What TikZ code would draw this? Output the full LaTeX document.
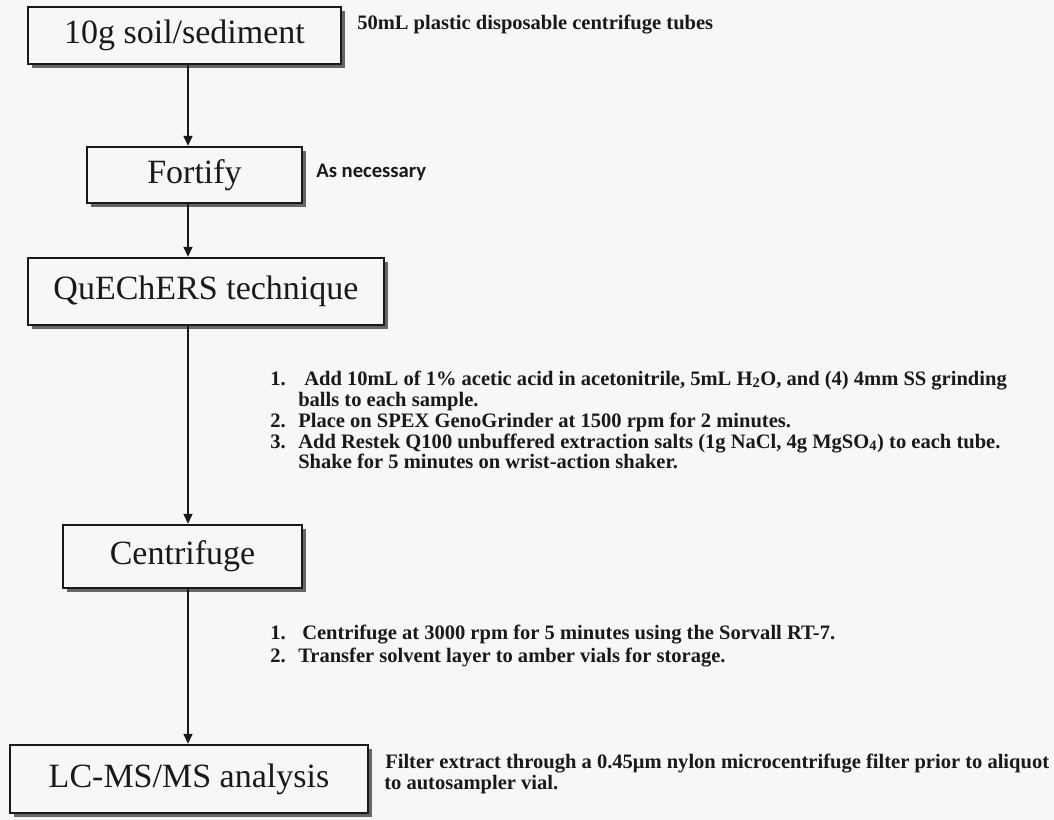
\documentclass[tikz,border=0pt]{standalone}
\usepackage{fontspec}
\setmainfont{Liberation Serif}
\newfontfamily\calib{Carlito}
\usetikzlibrary{shadows,arrows.meta}
\definecolor{bgc}{RGB}{247,247,247}
\definecolor{inkc}{RGB}{25,25,25}
\tikzset{
  stepbox/.style={draw=inkc, line width=1.6pt, fill=bgc, inner sep=0pt,
    font=\fontsize{25.5}{30}\selectfont, text=inkc,
    drop shadow={shadow xshift=3pt, shadow yshift=-3pt, fill=black!60, opacity=1}},
  note/.style={anchor=base west, inner sep=0pt, text=inkc,
    font=\fontsize{15.4}{18}\selectfont\bfseries},
  arr/.style={draw=inkc, line width=1.5pt, -{Triangle[length=7.5pt,width=6.5pt]}}
}
\begin{document}
\begin{tikzpicture}[x=0.75pt,y=-0.75pt]
\useasboundingbox[fill=bgc] (0,0) rectangle (1054,820);
\node[stepbox, minimum width=234.75pt, minimum height=42.75pt] (b1) at (184.5,35.5) {10g soil/sediment};
\node[stepbox, minimum width=161.25pt, minimum height=42pt] (b2) at (194.5,175) {Fortify};
\node[stepbox, minimum width=267pt, minimum height=50.25pt] (b3) at (206,291.5) {QuEChERS technique};
\node[stepbox, minimum width=179.25pt, minimum height=47.25pt] (b4) at (182.5,556.5) {Centrifuge};
\node[stepbox, minimum width=268.5pt, minimum height=51pt] (b5) at (189,779) {LC-MS/MS analysis};
\coordinate (ax) at (188,0);
\draw[arr] (b1.south -| ax) -- (b2.north -| ax);
\draw[arr] (b2.south -| ax) -- (b3.north -| ax);
\draw[arr] (b3.south -| ax) -- (b4.north -| ax);
\draw[arr] (b4.south -| ax) -- (b5.north -| ax);
% notes
\node[note] (t0) at (357,30) {50mL plastic disposable centrifuge tubes};
\node[note, font=\calib\fontsize{15.5}{18}\selectfont\bfseries] (tf) at (316,178) {As necessary};
\node[note] (n11) at (270,385) {1.};
\node[note] (t11) at (304,385) {Add 10mL of 1\% acetic acid in acetonitrile, 5mL H\textsubscript{2}O, and (4) 4mm SS grinding};
\node[note] (t12) at (298,406) {balls to each sample.};
\node[note] (n12) at (270,427) {2.};
\node[note] (t13) at (298,427) {Place on SPEX GenoGrinder at 1500 rpm for 2 minutes.};
\node[note] (n13) at (270,448) {3.};
\node[note] (t14) at (298,448) {Add Restek Q100 unbuffered extraction salts (1g NaCl, 4g MgSO\textsubscript{4}) to each tube.};
\node[note] (t15) at (298,468) {Shake for 5 minutes on wrist-action shaker.};
\node[note] (n21) at (270,639) {1.};
\node[note] (t21) at (302,639) {Centrifuge at 3000 rpm for 5 minutes using the Sorvall RT-7.};
\node[note] (n22) at (270,662) {2.};
\node[note] (t22) at (298,662) {Transfer solvent layer to amber vials for storage.};
\node[note] (t31) at (385,768) {Filter extract through a 0.45μm nylon microcentrifuge filter prior to aliquot};
\node[note] (t32) at (384,789) {to autosampler vial.};
\end{tikzpicture}
\end{document}
